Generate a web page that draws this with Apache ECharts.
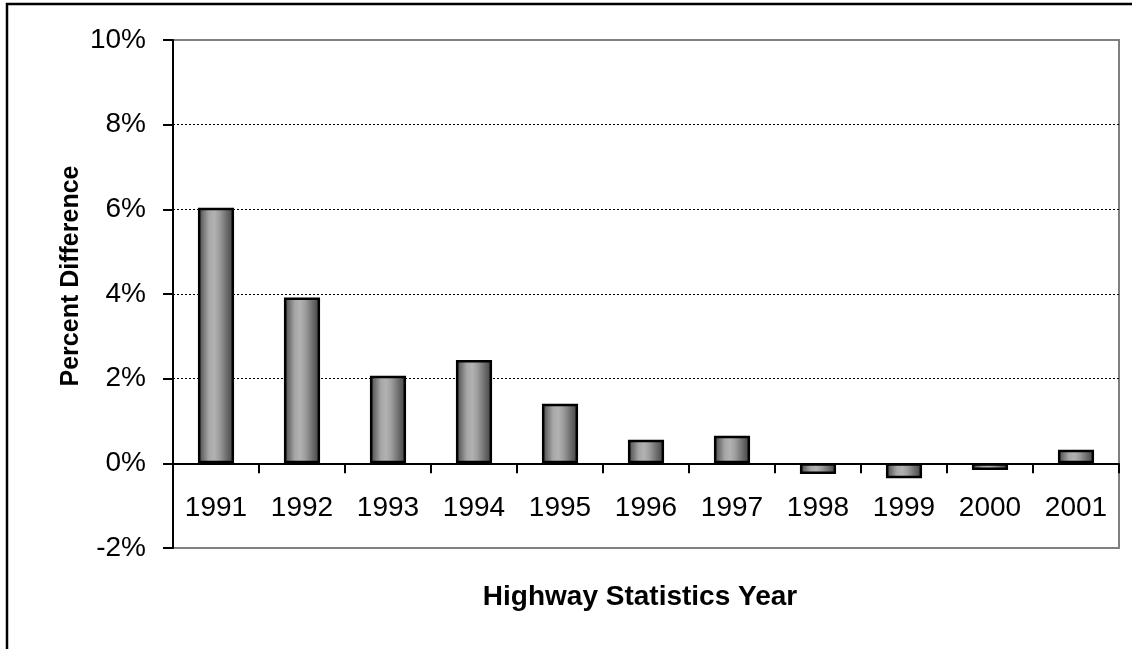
<!DOCTYPE html>
<html>
<head>
<meta charset="utf-8">
<script src="https://cdn.jsdelivr.net/npm/echarts@6/dist/echarts.min.js"></script>
<style>
html,body{margin:0;padding:0;background:#fff;}
#chart{width:1132px;height:649px;}
</style>
</head>
<body>
<div id="chart"></div>
<script>
const years = ['1991','1992','1993','1994','1995','1996','1997','1998','1999','2000','2001'];
const percentDiff = [6.04, 3.92, 2.07, 2.44, 1.41, 0.56, 0.65, -0.25, -0.35, -0.16, 0.32];
const yTicks = { min: -2, max: 10, interval: 2 };
const xTitle = 'Highway Statistics Year';
const yTitle = 'Percent Difference';

const chart = echarts.init(document.getElementById('chart'), null, {renderer: 'canvas'});
const font = '"Liberation Sans", Arial, sans-serif';
const gridTop = 40, gridBottom = 101, chartH = 649;
const plotH = chartH - gridTop - gridBottom;
// lift the category axis onto the zero line
const zeroOffset = -plotH * (0 - yTicks.min) / (yTicks.max - yTicks.min);
const barGradient = {
  type: 'linear', x: 0, y: 0, x2: 1, y2: 0,
  colorStops: [
    {offset: 0, color: '#404040'},
    {offset: 0.12, color: '#6a6a6a'},
    {offset: 0.3, color: '#a6a6a6'},
    {offset: 0.45, color: '#b2b2b2'},
    {offset: 0.6, color: '#9c9c9c'},
    {offset: 0.85, color: '#606060'},
    {offset: 1, color: '#404040'}
  ]
};
chart.setOption({
  animation: false,
  backgroundColor: '#fff',
  grid: {
    left: 173, right: 13, top: gridTop, bottom: gridBottom,
    show: true, borderColor: '#808080', borderWidth: 2, backgroundColor: 'transparent'
  },
  xAxis: {
    type: 'category',
    data: years,
    offset: zeroOffset,
    axisLine: {onZero: false, lineStyle: {color: '#000', width: 2}},
    axisTick: {show: true, interval: 0, alignWithLabel: false, length: 10, lineStyle: {color: '#000', width: 2}},
    axisLabel: {color: '#000', fontSize: 28, fontFamily: font, margin: 31, interval: 0},
    splitLine: {show: false}
  },
  yAxis: {
    type: 'value',
    min: yTicks.min, max: yTicks.max, interval: yTicks.interval,
    axisLine: {show: true, lineStyle: {color: '#000', width: 2}},
    axisTick: {show: true, length: 10, lineStyle: {color: '#000', width: 2}},
    axisLabel: {color: '#000', fontSize: 28, fontFamily: font, margin: 27, formatter: '{value}%'},
    splitLine: {show: true, showMinLine: false, showMaxLine: false, lineStyle: {color: '#000', width: 1, type: [2, 2]}}
  },
  series: [{
    type: 'bar',
    data: percentDiff,
    barWidth: '42%',
    itemStyle: {color: barGradient, borderColor: '#000', borderWidth: 2.5}
  }],
  graphic: [
    {type: 'rect', shape: {x: 7, y: 4, width: 3000, height: 3000}, style: {fill: 'none', stroke: '#000', lineWidth: 2.5}, z: 100, silent: true},
    {type: 'text', x: 640, y: 597, style: {text: xTitle, font: 'bold 28px ' + font, fill: '#000', textAlign: 'center', textVerticalAlign: 'middle'}},
    {type: 'text', x: 71, y: 276, rotation: Math.PI / 2, style: {text: yTitle, font: 'bold 25px ' + font, fill: '#000', textAlign: 'center', textVerticalAlign: 'middle'}}
  ]
});
</script>
</body>
</html>
